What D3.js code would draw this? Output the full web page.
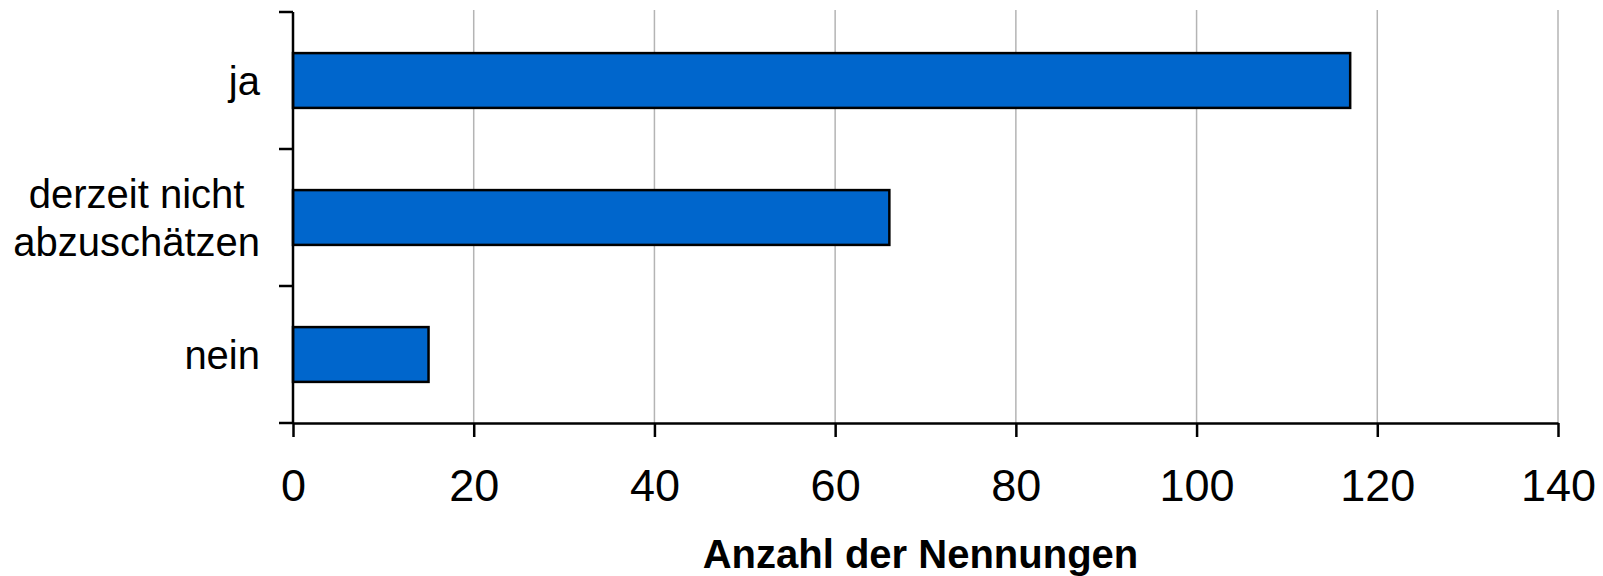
<!DOCTYPE html>
<html>
<head>
<meta charset="utf-8">
<script src="https://cdn.jsdelivr.net/npm/d3@7"></script>
<style>
  body { margin: 0; background: #fff; }
  svg { display: block; font-family: Arial, "Liberation Sans", sans-serif; }
</style>
</head>
<body>
<svg width="1603" height="576"></svg>
<script>
let categories = [['ja'], ['derzeit nicht', 'abzuschätzen'], ['nein']];
let values = [117, 66, 15];
let xTicks = [0, 20, 40, 60, 80, 100, 120, 140];
let xTitle = 'Anzahl der Nennungen';

let svg = d3.select('svg');

let plotLeft = 293, plotRight = 1558, plotTop = 12, plotBottom = 423;

let x = d3.scaleLinear()
  .domain([0, 140])
  .range([plotLeft, plotRight]);

let y = d3.scaleBand()
  .domain(d3.range(categories.length))
  .range([plotTop, plotBottom]);

// gridlines
svg.append('g')
  .selectAll('line')
  .data(xTicks.slice(1))
  .join('line')
    .attr('x1', d => x(d))
    .attr('x2', d => x(d))
    .attr('y1', plotTop - 2)
    .attr('y2', plotBottom)
    .attr('stroke', '#b4b4b4')
    .attr('stroke-width', 1.5);

// bars
let barH = y.bandwidth() * 0.4;
svg.append('g')
  .selectAll('rect')
  .data(values)
  .join('rect')
    .attr('x', x(0))
    .attr('y', (d, i) => y(i) + (y.bandwidth() - barH) / 2)
    .attr('width', d => x(d) - x(0))
    .attr('height', barH)
    .attr('fill', '#0066cc')
    .attr('stroke', '#000')
    .attr('stroke-width', 2.5);

// x axis
let xAxis = svg.append('g')
  .attr('transform', `translate(0, ${plotBottom})`)
  .call(d3.axisBottom(x).tickValues(xTicks).tickSize(14).tickPadding(32).tickSizeOuter(0));
xAxis.select('.domain').attr('stroke', '#000').attr('stroke-width', 2.5);
xAxis.selectAll('.tick line').attr('stroke', '#000').attr('stroke-width', 2.5);
xAxis.selectAll('.tick text')
  .attr('fill', '#000')
  .style('font-size', '45px')
  .style('font-family', 'Arial, "Liberation Sans", sans-serif')
  .attr('dy', '0.71em');

// y axis line and ticks at band edges
let yEdges = d3.range(categories.length + 1).map(i => i < categories.length ? y(i) : plotBottom);
svg.append('line')
  .attr('x1', plotLeft).attr('x2', plotLeft)
  .attr('y1', plotTop).attr('y2', plotBottom)
  .attr('stroke', '#000').attr('stroke-width', 2.5);
svg.append('g')
  .selectAll('line')
  .data(yEdges)
  .join('line')
    .attr('x1', plotLeft - 14)
    .attr('x2', plotLeft)
    .attr('y1', d => d)
    .attr('y2', d => d)
    .attr('stroke', '#000')
    .attr('stroke-width', 2.5);

// category labels
let labelRight = 260;
let lineGap = 48;
categories.forEach((lines, i) => {
  let cy = y(i) + y.bandwidth() / 2;
  let g = svg.append('g');
  let texts = lines.map((ln, j) => g.append('text')
    .attr('y', cy + 14.5 + (j - (lines.length - 1) / 2) * lineGap)
    .style('font-size', '40px')
    .attr('fill', '#000')
    .text(ln));
  let maxW = d3.max(texts, t => t.node().getComputedTextLength());
  texts.forEach(t => t.attr('x', labelRight - maxW / 2).attr('text-anchor', 'middle'));
});

// axis title
svg.append('text')
  .attr('x', (plotLeft + plotRight) / 2 - 5)
  .attr('y', 568)
  .attr('text-anchor', 'middle')
  .style('font-size', '40px')
  .style('font-weight', 'bold')
  .attr('fill', '#000')
  .text(xTitle);
</script>
</body>
</html>
